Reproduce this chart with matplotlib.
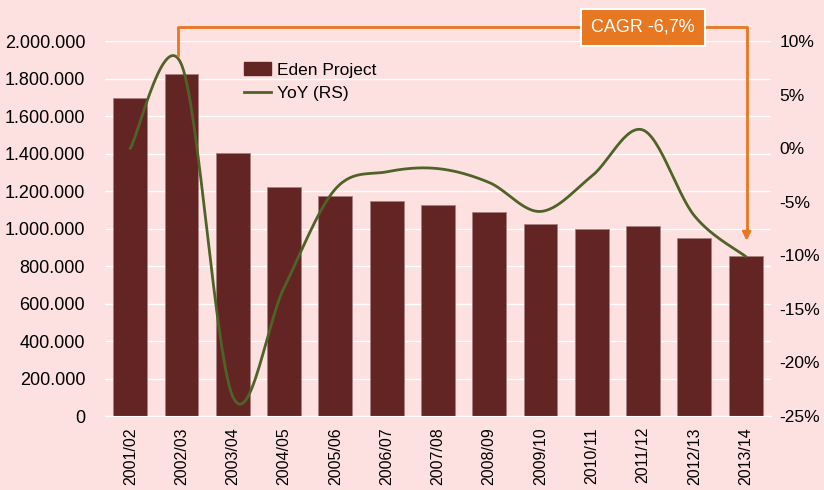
import numpy as np
import matplotlib.pyplot as plt
from matplotlib.patches import Patch
from matplotlib.lines import Line2D

plt.rcParams['font.family'] = ['Liberation Sans', 'DejaVu Sans']

seasons = ['2001/02', '2002/03', '2003/04', '2004/05', '2005/06', '2006/07', '2007/08',
           '2008/09', '2009/10', '2010/11', '2011/12', '2012/13', '2013/14']
visitors = [1696000, 1824000, 1403000, 1221000, 1173000, 1147000, 1125000,
            1088000, 1024000, 997000, 1013000, 949000, 853000]
yoy = [0.0, 7.8, -23.2, -13.0, -3.8, -2.2, -1.9, -3.2, -5.9, -2.6, 1.7, -6.3, -10.1]

bg = '#fde1e1'
bar_c = '#632523'
line_c = '#4f6228'
org = '#e87722'


def smooth(x, y, n=30):
    # bezier smoothing like the spreadsheet "smoothed line"
    x = np.asarray(x, float)
    y = np.asarray(y, float)
    px = np.concatenate([[x[0]], x, [x[-1]]])
    py = np.concatenate([[y[0]], y, [y[-1]]])
    xs, ys = [], []
    t = np.linspace(0, 1, n)
    for i in range(1, len(px) - 2):
        p0 = np.array([px[i], py[i]])
        p3 = np.array([px[i + 1], py[i + 1]])
        p1 = p0 + (np.array([px[i + 1], py[i + 1]]) - np.array([px[i - 1], py[i - 1]])) / 6
        p2 = p3 - (np.array([px[i + 2], py[i + 2]]) - np.array([px[i], py[i]])) / 6
        b = ((1 - t) ** 3)[:, None] * p0 + (3 * (1 - t) ** 2 * t)[:, None] * p1 \
            + (3 * (1 - t) * t ** 2)[:, None] * p2 + (t ** 3)[:, None] * p3
        xs.extend(b[:, 0])
        ys.extend(b[:, 1])
    return np.array(xs), np.array(ys)


fig = plt.figure(figsize=(8.24, 4.9), dpi=100)
fig.patch.set_facecolor(bg)
ax = fig.add_axes([0.127, 0.151, 0.809, 0.765])
ax.set_facecolor(bg)
x = np.arange(len(seasons))
ax.bar(x, visitors, width=0.66, color=bar_c, edgecolor='#a88080', linewidth=0.6, zorder=2)
ax.set_ylim(0, 2000000)
ax.set_xlim(-0.5, len(seasons) - 0.5)
ax.set_yticks(np.arange(0, 2000001, 200000))
ax.set_yticklabels([f'{v:,}'.replace(',', '.') for v in range(0, 2000001, 200000)], fontsize=13)
ax.grid(axis='y', color='white', linewidth=1, zorder=0)
ax.set_axisbelow(True)
ax.set_xticks(x)
ax.set_xticklabels(seasons, rotation=90, fontsize=11.5)
for s in ['top', 'right', 'left']:
    ax.spines[s].set_visible(False)
ax.spines['bottom'].set_color('white')
ax.tick_params(length=0, pad=8)
ax.tick_params(axis='y', pad=14)

ax2 = ax.twinx()
sx, sy = smooth(x, yoy)
ax2.plot(sx, sy, color=line_c, linewidth=2, zorder=3)
ax2.set_ylim(-25, 10)
ax2.set_yticks(np.arange(-25, 11, 5))
ax2.set_yticklabels([f'{v}%' for v in range(-25, 11, 5)], fontsize=12.5)
for s in ax2.spines.values():
    s.set_visible(False)
ax2.tick_params(length=0, pad=6)

# CAGR annotation
ax2.plot([0.94, 0.94, 12.02, 12.02], [8.7, 11.3, 11.3, -8.0], color=org, linewidth=2,
         clip_on=False, zorder=4)
ax2.annotate('', xy=(12.02, -8.9), xytext=(12.02, -7.8),
             arrowprops=dict(arrowstyle='-|>', color=org, lw=2, mutation_scale=12),
             annotation_clip=False)
ax2.text(10.0, 11.3, 'CAGR -6,7%', color='white', fontsize=13, ha='center', va='center',
         bbox=dict(boxstyle='square,pad=0.55', fc=org, ec='white', lw=1.5), zorder=5, clip_on=False)

handles = [Patch(color=bar_c, label='Eden Project'),
           Line2D([0], [0], color=line_c, lw=2, label='YoY (RS)')]
leg = ax.legend(handles=handles, loc='upper left', bbox_to_anchor=(0.185, 0.985), frameon=False,
                fontsize=12.5, handlelength=1.6, handletextpad=0.3, labelspacing=0.5)

fig.savefig('out.png', dpi=100, facecolor=bg)
